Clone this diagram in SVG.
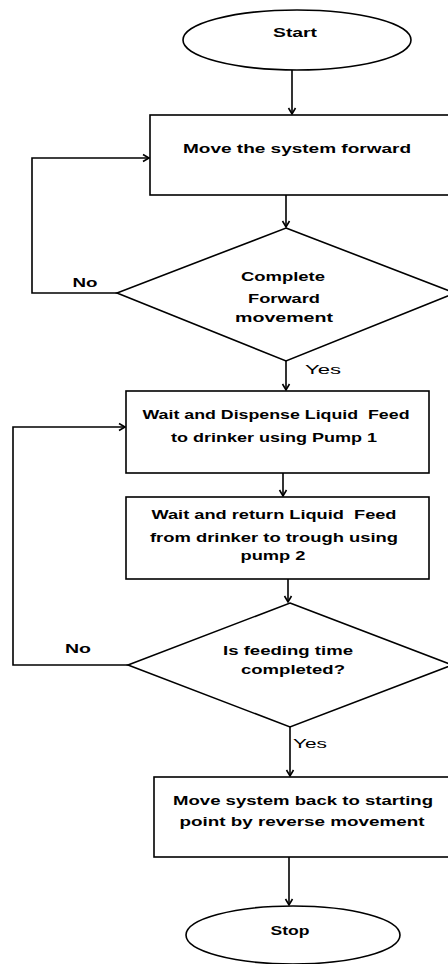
<svg xmlns="http://www.w3.org/2000/svg" width="448" height="964" viewBox="0 0 448 964">
<style>
.s{fill:#fff;stroke:#000;stroke-width:1.6}
.c{fill:none;stroke:#000;stroke-width:1.6}
.t{font-family:"Liberation Sans",Arial,sans-serif;font-size:13px;font-weight:bold;fill:#000;text-anchor:middle}
.y{font-family:"Liberation Sans",Arial,sans-serif;font-size:13px;fill:#000;text-anchor:middle}
</style>
<defs>
<marker id="a" markerUnits="userSpaceOnUse" markerWidth="10" markerHeight="10" refX="7" refY="4" orient="auto" viewBox="0 0 10 8">
<path d="M1,0.5 L7,4 L1,7.5" fill="none" stroke="#000" stroke-width="1.6"/>
</marker>
</defs>
<rect width="448" height="964" fill="#fff"/>
<g id="connectors">
<path class="c" d="M292,70 V114" marker-end="url(#a)"/>
<path class="c" d="M286,195 V227" marker-end="url(#a)"/>
<path class="c" d="M117,293 H32 V158 H149" marker-end="url(#a)"/>
<path class="c" d="M286,361 V390" marker-end="url(#a)"/>
<path class="c" d="M283,473 V496" marker-end="url(#a)"/>
<path class="c" d="M288,579 V602" marker-end="url(#a)"/>
<path class="c" d="M128,665 H13 V427 H125" marker-end="url(#a)"/>
<path class="c" d="M290,727 V776" marker-end="url(#a)"/>
<path class="c" d="M289,857 V905" marker-end="url(#a)"/>
<text class="t" x="85" y="287" textLength="25" lengthAdjust="spacingAndGlyphs">No</text>
<text class="y" x="323" y="374" textLength="36" lengthAdjust="spacingAndGlyphs">Yes</text>
<text class="t" x="78" y="653" textLength="26" lengthAdjust="spacingAndGlyphs">No</text>
<text class="y" x="310" y="748" textLength="34" lengthAdjust="spacingAndGlyphs">Yes</text>
</g>
<g id="start">
<ellipse class="s" cx="297" cy="40" rx="114" ry="30"/>
<text class="t" x="295" y="37" textLength="44" lengthAdjust="spacingAndGlyphs">Start</text>
</g>
<g id="move-forward">
<rect class="s" x="150" y="115" width="310" height="80"/>
<text class="t" x="297" y="153" textLength="228" lengthAdjust="spacingAndGlyphs">Move the system forward</text>
</g>
<g id="decision-forward">
<polygon class="s" points="286,228 455,293 286,361 117,293"/>
<text class="t" x="283" y="281" textLength="84" lengthAdjust="spacingAndGlyphs">Complete</text>
<text class="t" x="284" y="303" textLength="72" lengthAdjust="spacingAndGlyphs">Forward</text>
<text class="t" x="284" y="322" textLength="98" lengthAdjust="spacingAndGlyphs">movement</text>
</g>
<g id="dispense">
<rect class="s" x="126" y="391" width="303" height="82"/>
<text class="t" x="276" y="419" textLength="267" lengthAdjust="spacingAndGlyphs" xml:space="preserve" style="white-space:pre">Wait and Dispense Liquid  Feed</text>
<text class="t" x="274" y="442" textLength="206" lengthAdjust="spacingAndGlyphs">to drinker using Pump 1</text>
</g>
<g id="return">
<rect class="s" x="126" y="497" width="303" height="82"/>
<text class="t" x="274" y="519" textLength="245" lengthAdjust="spacingAndGlyphs" xml:space="preserve" style="white-space:pre">Wait and return Liquid  Feed</text>
<text class="t" x="274" y="542" textLength="248" lengthAdjust="spacingAndGlyphs">from drinker to trough using</text>
<text class="t" x="273" y="560" textLength="65" lengthAdjust="spacingAndGlyphs">pump 2</text>
</g>
<g id="decision-time">
<polygon class="s" points="290,603 452,665 290,727 128,665"/>
<text class="t" x="288" y="655" textLength="130" lengthAdjust="spacingAndGlyphs">Is feeding time</text>
<text class="t" x="293" y="674" textLength="104" lengthAdjust="spacingAndGlyphs">completed?</text>
</g>
<g id="move-back">
<rect class="s" x="154" y="777" width="310" height="80"/>
<text class="t" x="303" y="805" textLength="260" lengthAdjust="spacingAndGlyphs">Move system back to starting</text>
<text class="t" x="302" y="826" textLength="245" lengthAdjust="spacingAndGlyphs">point by reverse movement</text>
</g>
<g id="stop">
<ellipse class="s" cx="293" cy="935" rx="107" ry="29"/>
<text class="t" x="290" y="935" textLength="39" lengthAdjust="spacingAndGlyphs">Stop</text>
</g>
</svg>
